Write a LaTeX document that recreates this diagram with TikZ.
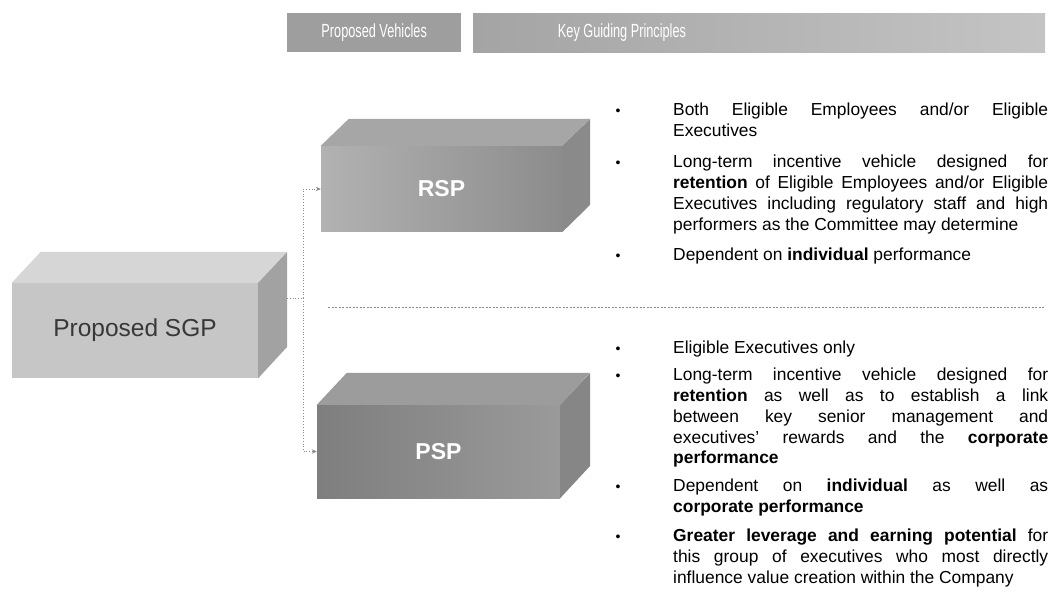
\documentclass[tikz,border=0pt]{standalone}
\usepackage{fontspec}
\setmainfont{Liberation Sans}
\newfontfamily\narrowfont[FakeStretch=0.67]{Liberation Sans}
\usetikzlibrary{arrows.meta}
\definecolor{sgpfront}{HTML}{C6C6C6}
\definecolor{sgptop}{HTML}{D6D6D6}
\definecolor{sgpside}{HTML}{A2A2A2}
\definecolor{rspA}{HTML}{B2B2B2}
\definecolor{rspB}{HTML}{8C8C8C}
\definecolor{rsptop}{HTML}{A6A6A6}
\definecolor{rspside}{HTML}{8A8A8A}
\definecolor{pspA}{HTML}{7E7E7E}
\definecolor{pspB}{HTML}{9A9A9A}
\definecolor{psptop}{HTML}{9C9C9C}
\definecolor{pspside}{HTML}{868686}
\definecolor{barone}{HTML}{9E9E9E}
\definecolor{bartwoA}{HTML}{A4A4A4}
\definecolor{bartwoB}{HTML}{C4C4C4}
\definecolor{linegray}{HTML}{8A8A8A}
\begin{document}
\begin{tikzpicture}[x=1pt,y=-1pt,
  face/.style={draw=none, inner sep=0pt},
  barbox/.style={draw=none, inner sep=0pt, anchor=north west, minimum height=39},
  hdr/.style={text=white, font=\narrowfont\fontsize{19}{22}\selectfont},
  conn/.style={draw=linegray, line width=0.8pt, dotted},
  arr/.style={-{Stealth[length=5pt,width=4.5pt]}},
  bul/.style={font=\fontsize{14}{16}\selectfont, anchor=base},
  para/.style={anchor=base west, text width=375pt, align=justify, inner sep=0pt,
    font=\fontsize{17.4}{21}\selectfont},
  sepline/.style={draw=linegray, line width=0.6pt, dash pattern=on 2pt off 1.5pt}
]
\useasboundingbox (0,0) rectangle (1057,593);
\fill[white] (0,0) rectangle (1057,593);

% header bars
\node[barbox, fill=barone, minimum width=174] (hv) at (287,13) {};
\node[hdr] (hvt) at (hv.center) {Proposed Vehicles};
\node[barbox, left color=bartwoA, right color=bartwoB, minimum width=572] (hk) at (473,13) {};
\node[hdr] (hkt) at (622,33) {Key Guiding Principles};

% Proposed SGP box
\node[face, fill=sgpfront, minimum width=246, minimum height=95,
  font=\fontsize{24.5}{28}\selectfont, text=black!78] (sgp) at (135,330.5) {Proposed SGP};
\fill[sgptop] (sgp.north west) -- ++(29,-31) -- ++(246,0) -- (sgp.north east) -- cycle;
\fill[sgpside] (sgp.north east) -- ++(29,-31) -- ++(0,95) -- (sgp.south east) -- cycle;

% RSP box
\node[face, left color=rspA, right color=rspB, minimum width=241, minimum height=86,
  font=\bfseries\fontsize{23}{26}\selectfont, text=white] (rsp) at (441.5,189) {RSP};
\fill[rsptop] (rsp.north west) -- ++(28,-27) -- ++(241,0) -- (rsp.north east) -- cycle;
\fill[rspside] (rsp.north east) -- ++(28,-27) -- ++(0,86) -- (rsp.south east) -- cycle;

% PSP box
\node[face, left color=pspA, right color=pspB, minimum width=243, minimum height=93,
  font=\bfseries\fontsize{23}{26}\selectfont, text=white] (psp) at (438.5,451.5) {PSP};
\fill[psptop] (psp.north west) -- ++(30,-32) -- ++(243,0) -- (psp.north east) -- cycle;
\fill[pspside] (psp.north east) -- ++(30,-32) -- ++(0,93) -- (psp.south east) -- cycle;

% connectors
\coordinate (sgpout) at (287,298);
\coordinate (jn) at (303,298);
\draw[conn] (sgpout) -- (jn);
\draw[conn, arr] (jn) |- (rsp.west);
\draw[conn, arr] (jn) |- (psp.west);

% separator
\coordinate (sepL) at (328,307);
\coordinate (sepR) at (1045,307);
\draw[sepline] (sepL) -- (sepR);

% block 1
\node[bul] (b1) at (618,116) {•};
\node[para] (p1) at (673,116) {Both Eligible Employees and/or Eligible\linebreak Executives};
\node[bul] (b2) at (618,168) {•};
\node[para] (p2) at (673,168) {Long-term incentive vehicle designed for\linebreak \textbf{retention} of Eligible Employees and/or Eligible\linebreak Executives including regulatory staff and high\linebreak performers as the Committee may determine};
\node[bul] (b3) at (618,261) {•};
\node[para] (p3) at (673,261) {Dependent on \textbf{individual} performance};

% block 2
\node[bul] (b4) at (618,353) {•};
\node[para] (p4) at (673,353) {Eligible Executives only};
\node[bul] (b5) at (618,380) {•};
\node[para] (p5) at (673,380) {Long-term incentive vehicle designed for\linebreak \textbf{retention} as well as to establish a link\linebreak between key senior management and\linebreak executives' rewards and the \textbf{corporate}\linebreak \textbf{performance}};
\node[bul] (b6) at (618,491) {•};
\node[para] (p6) at (673,491) {Dependent on \textbf{individual} as well as\linebreak \textbf{corporate performance}};
\node[bul] (b7) at (618,541) {•};
\node[para] (p7) at (673,541) {\textbf{Greater leverage and earning potential} for\linebreak this group of executives who most directly\linebreak influence value creation within the Company};
\end{tikzpicture}
\end{document}
